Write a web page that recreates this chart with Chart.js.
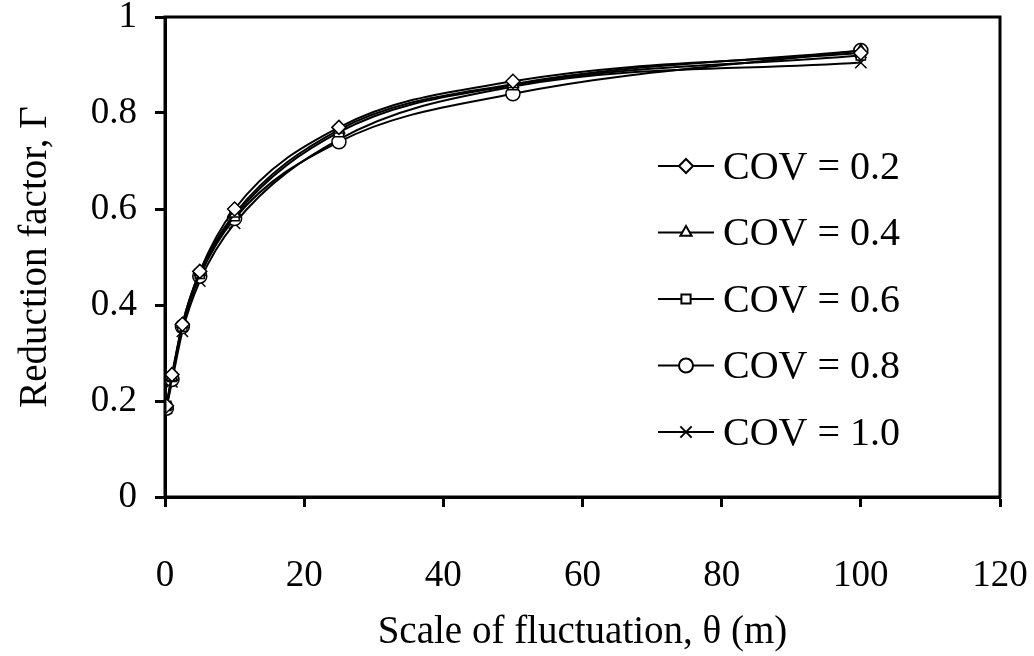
<!DOCTYPE html>
<html>
<head>
<meta charset="utf-8">
<title>Reduction factor vs scale of fluctuation</title>
<script src="https://cdn.jsdelivr.net/npm/chart.js@4.4.1/dist/chart.umd.min.js"></script>
<style>
    html, body { margin: 0; padding: 0; background: #fff; }
    #wrap { width: 1034px; height: 656px; }
</style>
</head>
<body>
<div id="wrap"><canvas id="chart" width="1034" height="656"></canvas></div>
<script>
// scale of fluctuation (m)
const theta = [0.2, 1, 2.5, 5, 10, 25, 50, 100];

// reduction factor for each COV
const cov02 = [0.19, 0.255, 0.36, 0.47, 0.60, 0.77, 0.866, 0.925];
const cov04 = [0.19, 0.25, 0.36, 0.468, 0.59, 0.765, 0.86, 0.93];
const cov06 = [0.19, 0.25, 0.355, 0.465, 0.585, 0.76, 0.858, 0.92];
const cov08 = [0.185, 0.245, 0.355, 0.46, 0.58, 0.74, 0.84, 0.93];
const cov10 = [0.185, 0.24, 0.345, 0.45, 0.57, 0.745, 0.855, 0.905];

const seriesLabels = ['COV = 0.2', 'COV = 0.4', 'COV = 0.6', 'COV = 0.8', 'COV = 1.0'];
const seriesValues = [cov02, cov04, cov06, cov08, cov10];
const markers = ['rectRot', 'triangle', 'rect', 'circle', 'crossRot'];
const markerSizes = [7, 6.5, 6.5, 7, 8];

const xTicks = [0, 20, 40, 60, 80, 100, 120];
const yTicks = [0, 0.2, 0.4, 0.6, 0.8, 1];

const FONT = '"Liberation Serif", "Times New Roman", serif';

function toPoints(values) {
    return theta.map((t, i) => ({ x: t, y: values[i] }));
}

// box round the plot area
const framePlugin = {
    id: 'frame',
    afterDatasetsDraw(chart) {
        const { ctx, chartArea: a } = chart;
        ctx.save();
        ctx.strokeStyle = '#000';
        ctx.lineWidth = 3;
        ctx.strokeRect(a.left, a.top, a.right - a.left, a.bottom - a.top);
        ctx.restore();
    }
};

// legend inside the plot, lower right
const insideLegend = {
    id: 'insideLegend',
    afterDraw(chart) {
        const { ctx, chartArea: a } = chart;
        const x0 = a.left + 493;
        const y0 = a.top + 149;
        const rowGap = 66.5;
        ctx.save();
        chart.data.datasets.forEach((ds, i) => {
            const y = y0 + i * rowGap;
            ctx.strokeStyle = '#000';
            ctx.lineWidth = 2;
            ctx.beginPath();
            ctx.moveTo(x0, y);
            ctx.lineTo(x0 + 56, y);
            ctx.stroke();
            ctx.fillStyle = '#fff';
            Chart.helpers.drawPoint(ctx, {
                pointStyle: ds.pointStyle,
                radius: ds.pointRadius,
                rotation: 0,
                borderWidth: 1.5
            }, x0 + 28, y);
            ctx.fillStyle = '#000';
            ctx.font = '40px ' + FONT;
            ctx.textBaseline = 'middle';
            ctx.textAlign = 'left';
            ctx.fillText(ds.label, x0 + 65, y + 2);
        });
        ctx.restore();
    }
};

const datasets = seriesValues.map((vals, i) => ({
    label: seriesLabels[i],
    data: toPoints(vals),
    borderColor: '#000',
    borderWidth: 2,
    backgroundColor: '#fff',
    pointStyle: markers[i],
    pointRadius: markerSizes[i],
    pointBorderColor: '#000',
    pointBackgroundColor: '#fff',
    pointBorderWidth: 1.5,
    cubicInterpolationMode: 'monotone',
    fill: false
}));

new Chart(document.getElementById('chart'), {
    type: 'line',
    data: { datasets },
    options: {
        responsive: false,
        animation: false,
        layout: { padding: { top: 17, right: 34, left: 0, bottom: 0 } },
        plugins: {
            legend: { display: false },
            tooltip: { enabled: false }
        },
        scales: {
            x: {
                type: 'linear',
                min: 0,
                max: 120,
                afterFit: (scale) => {
                    scale.height = 159;
                    scale.paddingLeft = 0;
                    scale.paddingRight = 0;
                },
                afterBuildTicks: (scale) => { scale.ticks = xTicks.map(v => ({ value: v })); },
                ticks: {
                    color: '#000',
                    font: { family: FONT, size: 37 },
                    padding: 47,
                    maxRotation: 0
                },
                grid: {
                    drawOnChartArea: false,
                    drawTicks: true,
                    tickLength: 10,
                    tickWidth: 3,
                    tickColor: '#000'
                },
                border: { color: '#000', width: 3 },
                title: {
                    display: true,
                    text: 'Scale of fluctuation, θ (m)',
                    color: '#000',
                    font: { family: FONT, size: 39 },
                    padding: { top: 0, bottom: 0 }
                }
            },
            y: {
                min: 0,
                max: 1,
                afterFit: (scale) => {
                    scale.width = 165;
                    scale.paddingTop = 0;
                    scale.paddingBottom = 0;
                },
                afterBuildTicks: (scale) => { scale.ticks = yTicks.map(v => ({ value: v })); },
                ticks: {
                    color: '#000',
                    font: { family: FONT, size: 37 },
                    padding: 18,
                    callback: (v) => (v === 0 || v === 1) ? String(v) : v.toFixed(1)
                },
                grid: {
                    drawOnChartArea: false,
                    drawTicks: true,
                    tickLength: 10,
                    tickWidth: 3,
                    tickColor: '#000'
                },
                border: { color: '#000', width: 3 },
                title: {
                    display: true,
                    text: 'Reduction factor, Γ',
                    color: '#000',
                    font: { family: FONT, size: 39 },
                    padding: { top: 12, bottom: 0 }
                }
            }
        }
    },
    plugins: [framePlugin, insideLegend]
});
</script>
</body>
</html>
